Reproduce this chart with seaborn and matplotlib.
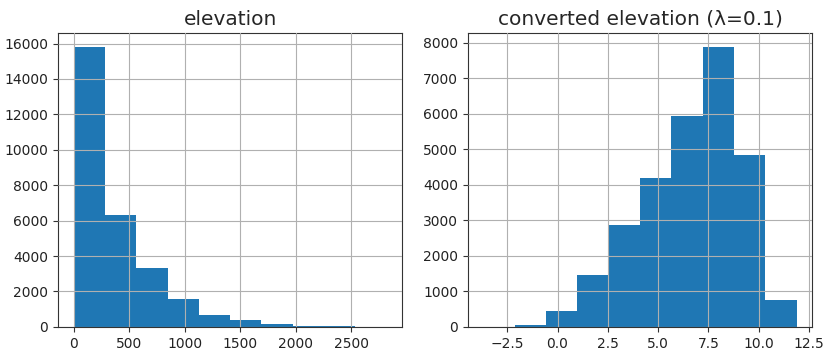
import numpy as np
import seaborn as sns
import matplotlib.pyplot as plt

# bin edges and counts
elev_edges = [0, 282, 564, 846, 1128, 1410, 1692, 1974, 2256, 2538, 2820]
elev_counts = [15780, 6345, 3350, 1545, 697, 377, 170, 75, 60, 12]

conv_edges = [-3.68, -2.12, -0.57, 0.99, 2.54, 4.10, 5.66, 7.21, 8.77, 10.32, 11.88]
conv_counts = [5, 40, 460, 1446, 2854, 4178, 5934, 7869, 4826, 760]

sns.set_style("ticks")
plt.rcParams['font.family'] = ['DejaVu Sans']

fig, (ax1, ax2) = plt.subplots(1, 2, figsize=(8.28, 3.58), dpi=100)
fig.subplots_adjust(left=0.07, right=0.981, top=0.908, bottom=0.087, wspace=0.19)


def draw(ax, edges, counts, title):
    centers = [(a + b) / 2 for a, b in zip(edges[:-1], edges[1:])]
    sns.histplot(x=centers, weights=counts, bins=edges, ax=ax,
                 color="#1f77b4", alpha=1, linewidth=0, edgecolor="none")
    ax.set_axisbelow(False)
    ax.grid(True, color="#b0b0b0", linewidth=0.8)
    ax.set_title(title, fontsize=14.5)
    ax.set_xlabel("")
    ax.set_ylabel("")
    ax.tick_params(labelsize=10, colors="#333333", labelcolor="#222222")
    for s in ax.spines.values():
        s.set_color("#333333")
        s.set_linewidth(0.8)
    ax.margins(x=0.05)


draw(ax1, elev_edges, elev_counts, "elevation")
ax1.set_xticks([0, 500, 1000, 1500, 2000, 2500])
ax1.set_yticks(range(0, 16001, 2000))
ax1.set_ylim(0, 16600)

draw(ax2, conv_edges, conv_counts, "converted elevation (λ=0.1)")
ax2.set_xticks([-2.5, 0.0, 2.5, 5.0, 7.5, 10.0, 12.5])
ax2.set_xticklabels(["−2.5", "0.0", "2.5", "5.0", "7.5", "10.0", "12.5"])
ax2.set_yticks(range(0, 8001, 1000))
ax2.set_ylim(0, 8270)

fig.savefig("out.png", dpi=100)
